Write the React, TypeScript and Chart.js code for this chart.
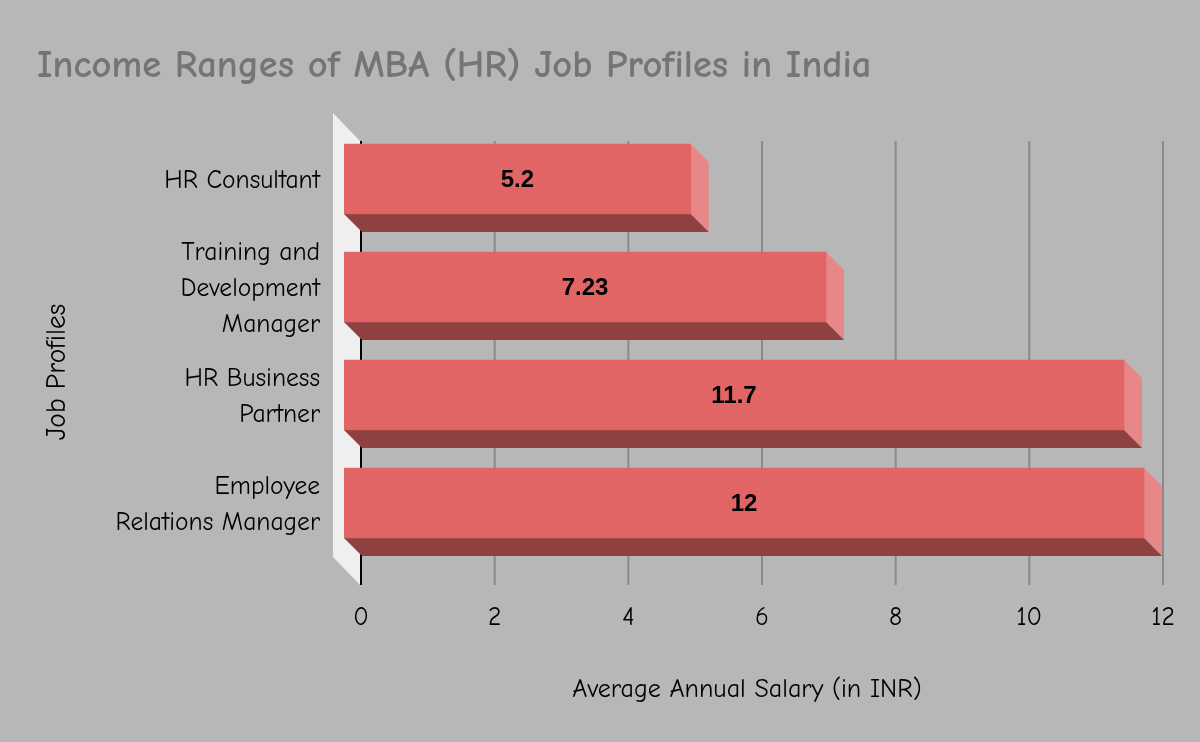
import React, { useEffect, useRef } from "react";
import { Chart, registerables } from "chart.js";

Chart.register(...registerables);

const titleText = "Income Ranges of MBA (HR) Job Profiles in India";
const xTitle = "Average Annual Salary (in INR)";
const yTitle = "Job Profiles";
const categories: (string | string[])[] = [
  "HR Consultant",
  ["Training and", "Development", "Manager"],
  ["HR Business", "Partner"],
  ["Employee", "Relations Manager"],
];
const salaries = [5.2, 7.23, 11.7, 12];
const barAxisMax = 12.03;
const FONT = '"Comic Sans MS", "Comic Neue", "Noto Sans", sans-serif';

const BG = "#b7b7b7";
const FRONT = "#e16565";
const SIDE = "#e88787";
const BOTTOM = "#8f4040";
const WALL = "#efefef";
const GRID = "#8a8a8a";

const DX = 17;
const BACK = 1;
const DY = 18;
const WALL_DEPTH_X = 27;
const WALL_DEPTH_Y = 28;
const LABEL_SIZE = 25.5;

function poly(ctx: CanvasRenderingContext2D, pts: number[][], color: string) {
  ctx.beginPath();
  pts.forEach(([x, y], i) => (i ? ctx.lineTo(x, y) : ctx.moveTo(x, y)));
  ctx.closePath();
  ctx.fillStyle = color;
  ctx.fill();
}

const bars3d = {
  id: "bars3d",
  beforeDatasetsDraw(chart: any) {
    const { ctx, chartArea, scales } = chart;
    const x0 = scales.x.getPixelForValue(0);
    const top = chartArea.top;
    const bottom = chartArea.bottom;
    const wTop = top - 12;
    ctx.save();
    poly(
      ctx,
      [
        [x0 - WALL_DEPTH_X - 1, wTop],
        [x0 - 1, wTop + WALL_DEPTH_Y],
        [x0 - 1, bottom + WALL_DEPTH_Y],
        [x0 - WALL_DEPTH_X - 1, bottom],
      ],
      WALL
    );
    scales.x.ticks.forEach((t: any) => {
      const px = scales.x.getPixelForValue(t.value);
      ctx.fillStyle = t.value === 0 ? "#000000" : GRID;
      ctx.fillRect(px - 1, wTop + WALL_DEPTH_Y, 2, bottom - wTop);
    });
    const meta = chart.getDatasetMeta(0);
    const base = scales.xb.getPixelForValue(0);
    meta.data.forEach((bar: any) => {
      const t = bar.y - bar.height / 2;
      const b = bar.y + bar.height / 2;
      const fr = bar.x - DX;
      const fl = base - DX;
      poly(ctx, [[fr, t], [bar.x + BACK, t + DY], [bar.x + BACK, b + DY], [fr, b]], SIDE);
      poly(ctx, [[fl, b], [fr, b], [bar.x + BACK, b + DY], [base + BACK, b + DY]], BOTTOM);
    });
    // axis titles sit off the plot's centre in this design
    ctx.font = `26px ${FONT}`;
    ctx.fillStyle = "#000000";
    ctx.textAlign = "center";
    ctx.textBaseline = "middle";
    ctx.fillText(xTitle, 747, 690);
    ctx.font = `27.5px ${FONT}`;
    ctx.translate(57, 372);
    ctx.rotate(-Math.PI / 2);
    ctx.fillText(yTitle, 0, 0);
    ctx.restore();
    ctx.save();
    ctx.translate(-DX, 0);
  },
  afterDatasetsDraw(chart: any) {
    const { ctx, scales } = chart;
    ctx.restore();
    const base = scales.xb.getPixelForValue(0);
    ctx.save();
    ctx.font = 'bold 24px "Liberation Sans", Arial, sans-serif';
    ctx.fillStyle = "#000000";
    ctx.textAlign = "center";
    ctx.textBaseline = "middle";
    chart.getDatasetMeta(0).data.forEach((bar: any, i: number) => {
      ctx.fillText(String(salaries[i]), (base + bar.x) / 2 - DX, bar.y + 1);
    });
    ctx.restore();
  },
};

export default function App() {
  const ref = useRef<HTMLCanvasElement>(null);
  useEffect(() => {
    document.body.style.margin = "0";
    document.body.style.background = BG;
    const chart = new Chart(ref.current as HTMLCanvasElement, {
      type: "bar",
      data: {
        labels: categories as any,
        datasets: [
          {
            data: salaries,
            xAxisID: "xb",
            backgroundColor: FRONT,
            borderWidth: 0,
            barThickness: 70,
          },
        ],
      },
      plugins: [bars3d],
      options: {
        indexAxis: "y",
        responsive: false,
        animation: false,
        layout: { padding: { left: 37, right: 37, top: 0, bottom: 0 } },
        plugins: {
          legend: { display: false },
          tooltip: { enabled: false },
          title: {
            display: true,
            text: titleText,
            align: "start",
            color: "#757575",
            font: { family: FONT, size: 38.5, weight: "bold", lineHeight: 1.2 },
            padding: { top: 43, bottom: 35.8 },
          },
        },
        scales: {
          x: {
            type: "linear",
            position: "bottom",
            min: 0,
            max: 12,
            afterFit: (s: any) => {
              s.height = 185;
              s.paddingLeft = 0;
              s.paddingRight = 0;
            },
            afterBuildTicks: (s: any) => {
              s.ticks = [0, 2, 4, 6, 8, 10, 12].map((value) => ({ value }));
            },
            grid: { display: false, drawTicks: false },
            border: { display: false },
            ticks: {
              color: "#000000",
              padding: 45,
              maxRotation: 0,
              font: { family: FONT, size: LABEL_SIZE },
              callback: (v: any) => String(v),
            },
          },
          xb: {
            type: "linear",
            position: "bottom",
            display: false,
            min: 0,
            max: barAxisMax,
          },
          y: {
            type: "category",
            position: "left",
            afterFit: (s: any) => {
              s.width = 324;
            },
            grid: { display: false, drawTicks: false },
            border: { display: false },
            ticks: {
              color: "#000000",
              padding: 41,
              labelOffset: 2,
              autoSkip: false,
              font: { family: FONT, size: LABEL_SIZE, lineHeight: 36 / LABEL_SIZE },
            },
          },
        },
      } as any,
    });
    return () => chart.destroy();
  }, []);
  return <canvas ref={ref} width={1200} height={742} style={{ display: "block", background: BG }} />;
}
